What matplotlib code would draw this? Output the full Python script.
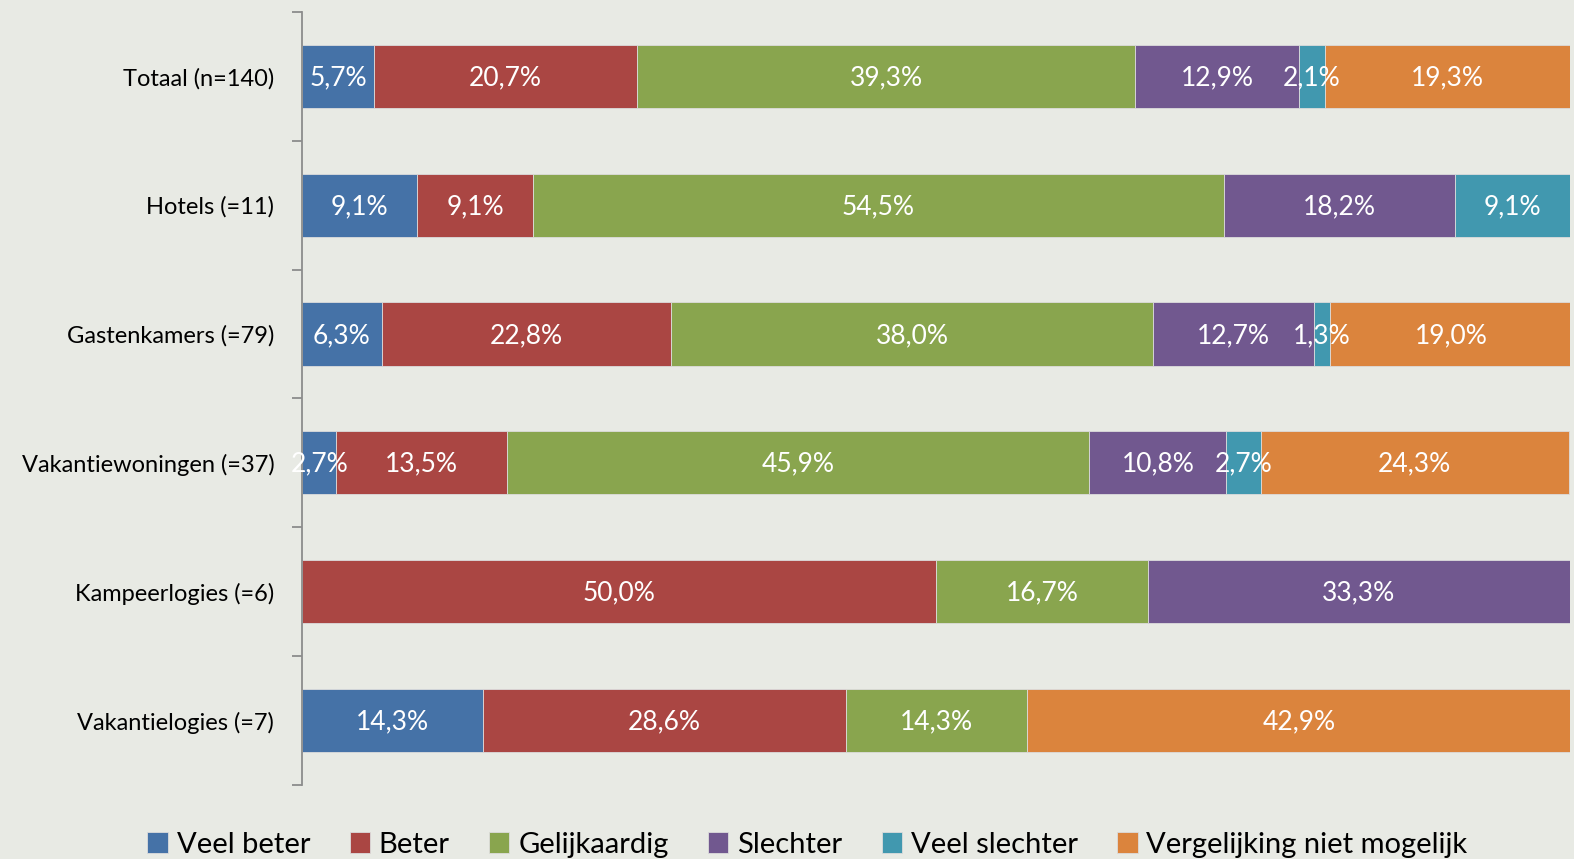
import numpy as np
import matplotlib.pyplot as plt
from matplotlib.ticker import FixedLocator

plt.rcParams['font.family'] = ['Lato', 'DejaVu Sans']

# === data ===
categories = ["Totaal (n=140)", "Hotels (=11)", "Gastenkamers (=79)",
              "Vakantiewoningen (=37)", "Kampeerlogies (=6)", "Vakantielogies (=7)"]
series = ["Veel beter", "Beter", "Gelijkaardig", "Slechter", "Veel slechter",
          "Vergelijking niet mogelijk"]
veel_beter = [5.7, 9.1, 6.3, 2.7, 0.0, 14.3]
beter = [20.7, 9.1, 22.8, 13.5, 50.0, 28.6]
gelijk = [39.3, 54.5, 38.0, 45.9, 16.7, 14.3]
slechter = [12.9, 18.2, 12.7, 10.8, 33.3, 0.0]
veel_slechter = [2.1, 9.1, 1.3, 2.7, 0.0, 0.0]
niet_mogelijk = [19.3, 0.0, 19.0, 24.3, 0.0, 42.9]
colors = ["#4572a7", "#aa4643", "#89a54e", "#71588f", "#4198af", "#db843d"]

values = [veel_beter, beter, gelijk, slechter, veel_slechter, niet_mogelijk]

# === plot ===
fig = plt.figure(figsize=(15.74, 8.59), dpi=100, facecolor="#e8eae4")
ax = fig.add_axes([0.1919, 0.0861, 0.8056, 0.9])
ax.set_facecolor("none")

y = np.arange(len(categories))
left = np.zeros(len(categories))
for name, vals, col in zip(series, values, colors):
    vals = np.array(vals)
    ax.barh(y, vals, left=left, height=0.49, color=col, label=name,
            edgecolor="#dcdcdc", linewidth=0.6)
    for yi, (l, v) in enumerate(zip(left, vals)):
        if v > 0:
            ax.text(l + v / 2, yi + 0.01, f"{v:.1f}%".replace(".", ","),
                    ha="center", va="center", color="white", fontsize=19)
    left += vals

ax.set_xlim(0, 100)
ax.set_ylim(len(categories) - 0.5, -0.5)
ax.set_yticks(y)
ax.set_yticklabels(categories, fontsize=17)
ax.tick_params(axis="y", which="major", length=0, pad=20)
ax.yaxis.set_minor_locator(FixedLocator(np.arange(-0.5, len(categories), 1)))
ax.tick_params(axis="y", which="minor", length=7, color="#8c8c8c", width=1.3)
ax.set_xticks([])
for s in ["top", "right", "bottom"]:
    ax.spines[s].set_visible(False)
ax.spines["left"].set_color("#8c8c8c")
ax.spines["left"].set_linewidth(1.3)

fig.legend(loc="lower center", bbox_to_anchor=(0.513, -0.029), ncol=6,
           frameon=False, fontsize=21, handlelength=0.7, handleheight=0.7,
           handletextpad=0.3, columnspacing=1.35)

fig.savefig("out.png", dpi=100, facecolor=fig.get_facecolor())
